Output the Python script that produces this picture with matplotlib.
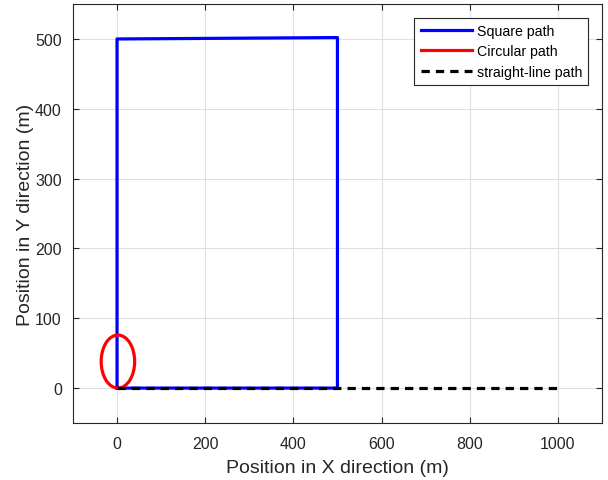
import numpy as np
import matplotlib
matplotlib.use("Agg")
import matplotlib.pyplot as plt
from matplotlib.patches import Ellipse

plt.rcParams['font.family'] = ['Liberation Sans', 'DejaVu Sans']

# square path corners
square_x = [0, 0, 500, 500, 0]
square_y = [0, 500, 502, 0, 0]

# circular path (center and radius, metres)
circle_center = (2, 38)
circle_radius = 38

# straight-line path
line_x = [0, 1000]
line_y = [0, 0]

xticks = [0, 200, 400, 600, 800, 1000]
yticks = [0, 100, 200, 300, 400, 500]

fig = plt.figure(figsize=(6.08, 4.81), dpi=100)
ax = fig.add_axes([0.120, 0.1185, 0.870, 0.871])

ax.plot(square_x, square_y, color='#0000ff', lw=2.3, label='Square path', zorder=3)
circ = Ellipse(circle_center, 2 * circle_radius, 2 * circle_radius, fill=False,
               edgecolor='#ff0000', lw=2.3, zorder=4)
ax.add_patch(circ)
ax.plot([], [], color='#ff0000', lw=2.3, label='Circular path')
ax.plot(line_x, line_y, color='k', lw=2.3, ls=(0, (2.6, 1.9)), label='straight-line path', zorder=5)

ax.set_xlim(-100, 1100)
ax.set_ylim(-50, 550)
ax.set_xticks(xticks)
ax.set_yticks(yticks)
ax.tick_params(direction='in', labelsize=11.5, length=4, color='#262626',
               top=True, right=True, labelcolor='#262626')
ax.tick_params(axis='x', pad=9)
ax.tick_params(axis='y', pad=8)
ax.grid(True, color='#e0e0e0', lw=0.8)
ax.set_axisbelow(True)
for s in ax.spines.values():
    s.set_color('#262626')
    s.set_linewidth(0.8)

ax.set_xlabel('Position in X direction (m)', fontsize=14, color='#262626', labelpad=6)
ax.set_ylabel('Position in Y direction (m)', fontsize=14, color='#262626', labelpad=1)

leg = ax.legend(loc='upper right', fontsize=10.2, fancybox=False, framealpha=1,
                edgecolor='#262626', borderaxespad=0.95, handlelength=3.6,
                handletextpad=0.35, labelspacing=0.45, borderpad=0.45)
leg.get_frame().set_linewidth(0.8)

fig.savefig('out.png', dpi=100)
